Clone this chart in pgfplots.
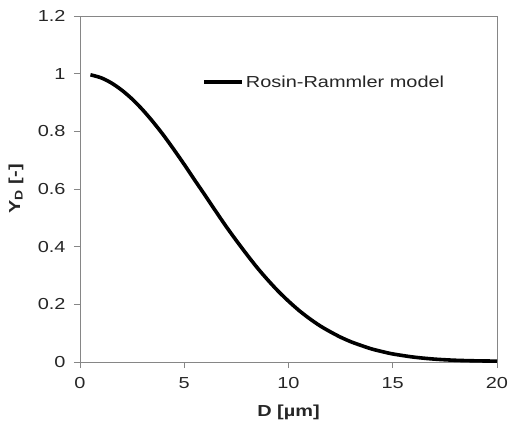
\documentclass[border=0pt]{standalone}
\usepackage{fontspec}
\setmainfont{Liberation Sans}[FakeStretch=1.25]
\usepackage{pgfplots}
\pgfplotsset{compat=1.18}
\definecolor{axgray}{HTML}{868686}
\begin{document}
\begin{tikzpicture}
\begin{axis}[
  name=ax,
  scale only axis, width=417bp, height=346bp,
  xmin=0, xmax=20, ymin=0, ymax=1.2,
  xtick={0,5,10,15,20},
  ytick={0,0.2,0.4,0.6,0.8,1,1.2},
  yticklabels={0,0.2,0.4,0.6,0.8,1,1.2},
  xticklabels={0,5,10,15,20},
  tick align=outside, major tick length=6bp,
  xtick pos=bottom, ytick pos=left,
  axis line style={axgray, line width=0.9bp},
  tick style={axgray, line width=0.9bp},
  ticklabel style={font=\fontsize{16}{18}\selectfont, text=black!85},
  xticklabel style={yshift=-6bp},
  yticklabel style={xshift=-5bp},
  xlabel={\textbf{D [µm]}},
  ylabel={\textbf{Y\textsubscript{D} [-]}},
  label style={font=\fontsize{16}{18}\selectfont, text=black!85},
  xlabel style={at={(axis description cs:0.5,-0.147)}, anchor=center},
  ylabel style={at={(axis description cs:-0.1535,0.5)}, anchor=center},
  legend style={at={(rel axis cs:0.293,0.809)}, anchor=west, draw=none, fill=none,
    font=\fontsize{16}{18}\selectfont, text=black!85, inner sep=0pt},
  legend image code/.code={\draw[#1] (0bp,0bp) -- (38bp,0bp);},
]
\addplot[black, line width=3.6bp, smooth] coordinates {
(0.5,0.996) (1.0,0.986) (1.5,0.968) (2.0,0.943) (2.5,0.912) (3.0,0.875)
(3.5,0.833) (4.0,0.787) (4.5,0.737) (5.0,0.685) (5.5,0.631) (6.0,0.578)
(6.5,0.524) (7.0,0.471) (7.5,0.421) (8.0,0.373) (8.5,0.327) (9.0,0.285)
(9.5,0.246) (10.0,0.211) (10.5,0.179) (11.0,0.151) (11.5,0.126) (12.0,0.105)
(12.5,0.086) (13.0,0.070) (13.5,0.057) (14.0,0.045) (14.5,0.036) (15.0,0.028)
(16.0,0.017) (17.0,0.010) (18.0,0.006) (19.0,0.004) (20.0,0.003)
};
\addlegendentry{Rosin-Rammler model}
\end{axis}
\pgfresetboundingbox
\path ([shift={(-80bp,-67bp)}]ax.south west) rectangle ([shift={(12bp,16bp)}]ax.north east);
\end{tikzpicture}
\end{document}
